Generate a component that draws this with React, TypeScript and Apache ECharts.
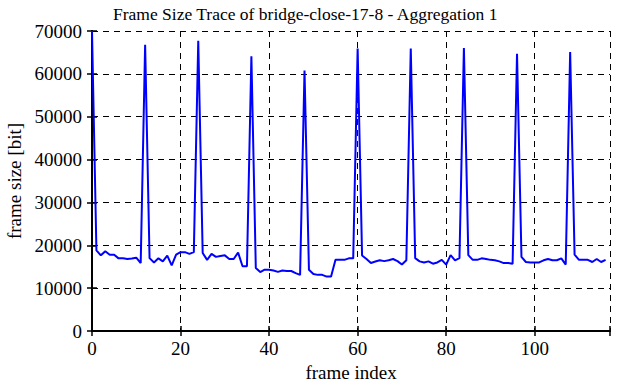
import React, { useEffect, useRef } from "react";
import * as echarts from "echarts";

const frameSizes: number[] = [
  70000, 18800, 17650, 18600, 17800, 17800, 16950, 16950, 16800, 16900,
  17100, 15850, 66800, 17000, 16000, 16950, 16250, 17600, 15300, 17800,
  18400, 18400, 18000, 18400, 67700, 18200, 16600, 18000, 17300, 17500,
  17650, 16800, 16800, 18300, 15100, 15100, 64100, 14700, 13750, 14300,
  14300, 14100, 13800, 14100, 14000, 14000, 13500, 13100, 60800, 14300,
  13300, 13100, 13100, 12700, 12700, 16600, 16600, 16600, 16950, 16950,
  65900, 17600, 16800, 15850, 16200, 16500, 16300, 16500, 16800, 16300,
  15500, 16500, 65900, 17000, 16250, 16000, 16250, 15700, 16000, 16600,
  15500, 17700, 16500, 17000, 66000, 17700, 16600, 16600, 16950, 16800,
  16600, 16500, 16250, 15850, 15850, 15700, 64700, 17300, 16100, 16000,
  16000, 16000, 16500, 16800, 16500, 16500, 16950, 15500, 65100, 17800,
  16600, 16600, 16600, 16100, 16800, 16100, 16600,
];
const frameIndex: number[] = frameSizes.map((_, i) => i);

const titleText = "Frame Size Trace of bridge-close-17-8 - Aggregation 1";
const xName = "frame index";
const yName = "frame size [bit]";

export default function App() {
  const ref = useRef<HTMLDivElement>(null);
  useEffect(() => {
    if (!ref.current) return;
    const chart = echarts.init(ref.current, null, { renderer: "svg" });
    const font = "Liberation Serif";
    const gridLine = { show: true, lineStyle: { color: "#000", type: [6, 5] as any, width: 1 } };
    chart.setOption({
      animation: false,
      backgroundColor: "#fff",
      textStyle: { fontFamily: font },
      title: {
        text: titleText,
        left: 108,
        top: 0,
        textStyle: { fontFamily: font, fontSize: 17.5, fontWeight: "normal", color: "#000" },
      },
      grid: {
        left: 92,
        right: 12,
        top: 31,
        bottom: 51,
        show: false,
        containLabel: false,
        outerBoundsMode: "none",
      },
      xAxis: [
        {
          type: "value",
          min: 0,
          max: 117,
          interval: 20,
          name: xName,
          nameLocation: "middle",
          nameGap: 32,
          nameTextStyle: { fontFamily: font, fontSize: 19, color: "#000" },
          axisLine: { show: true, onZero: false, lineStyle: { color: "#000", width: 2 } },
          axisTick: { show: true, inside: true, length: 5, lineStyle: { color: "#000", width: 1.5 } },
          axisLabel: {
            fontFamily: font,
            fontSize: 19,
            color: "#000",
            margin: 8,
            formatter: (v: number) => (v % 20 === 0 ? String(v) : ""),
          },
          splitLine: gridLine,
        },
        {
          type: "value",
          position: "top",
          min: 0,
          max: 117,
          interval: 20,
          axisLine: { show: true, lineStyle: { color: "#000", width: 2 } },
          axisTick: { show: true, inside: true, length: 5, lineStyle: { color: "#000", width: 1.5 } },
          axisLabel: { show: false },
          splitLine: { show: false },
        },
      ],
      yAxis: [
        {
          type: "value",
          min: 0,
          max: 70000,
          interval: 10000,
          name: yName,
          nameLocation: "middle",
          nameGap: 66,
          nameTextStyle: { fontFamily: font, fontSize: 19, color: "#000" },
          axisLine: { show: true, onZero: false, lineStyle: { color: "#000", width: 2 } },
          axisTick: { show: true, inside: true, length: 5, lineStyle: { color: "#000", width: 1.5 } },
          axisLabel: {
            fontFamily: font,
            fontSize: 19,
            color: "#000",
            margin: 10,
            formatter: (v: number) => String(v),
          },
          splitLine: gridLine,
        },
        {
          type: "value",
          position: "right",
          min: 0,
          max: 70000,
          interval: 10000,
          axisLine: { show: true, lineStyle: { color: "#000", width: 2 } },
          axisTick: { show: true, inside: true, length: 5, lineStyle: { color: "#000", width: 1.5 } },
          axisLabel: { show: false },
          splitLine: { show: false },
        },
      ],
      series: [
        {
          type: "line",
          xAxisIndex: 0,
          yAxisIndex: 0,
          data: frameIndex.map((i) => [i, frameSizes[i]]),
          showSymbol: false,
          symbol: "none",
          lineStyle: { color: "#0000ff", width: 2 },
        },
      ],
    });
    return () => chart.dispose();
  }, []);
  return (
    <div
      ref={ref}
      style={{ position: "fixed", left: 0, top: 0, width: 622, height: 382 }}
    />
  );
}
